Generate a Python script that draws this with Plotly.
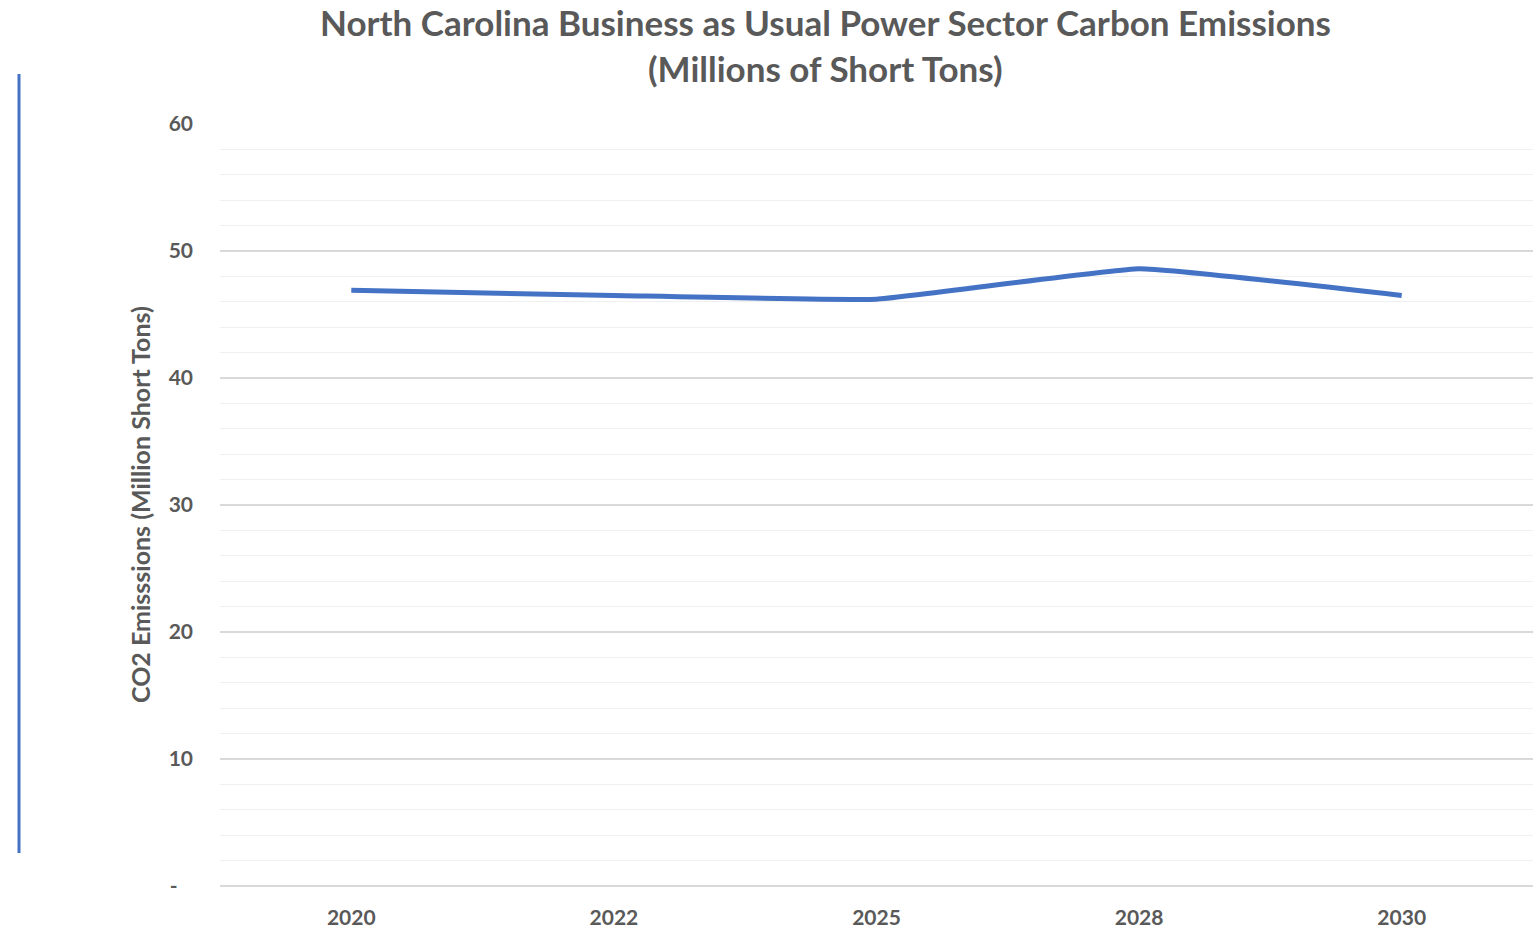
import plotly.graph_objects as go

years = ["2020", "2022", "2025", "2028", "2030"]
emissions = [46.9, 46.5, 46.2, 48.6, 46.5]

y_tickvals = [0, 10, 20, 30, 40, 50, 60]
y_ticktext = ["-&nbsp;&nbsp;&nbsp;", "10", "20", "30", "40", "50", "60"]

GRAY = "#595959"
BLUE = "#4472C4"
FONT = "Lato, 'Open Sans', sans-serif"

fig = go.Figure()
fig.add_trace(go.Scatter(
    x=years, y=emissions, mode="lines",
    line=dict(color=BLUE, width=5, shape="spline", smoothing=0.3),
    hoverinfo="x+y", showlegend=False,
))

W, H = 1537, 931
L, R, T, B = 220, 4, 124, 45
pw = W - L - R
ph = H - T - B

fig.update_layout(
    width=W, height=H,
    margin=dict(l=L, r=R, t=T, b=B),
    paper_bgcolor="white", plot_bgcolor="white",
    font=dict(family=FONT, color=GRAY),
    xaxis=dict(
        type="category", range=[-0.5, 4.5], automargin=False,
        tickvals=years, ticktext=["<b>%s</b>" % y for y in years],
        showgrid=False, showline=False, zeroline=False,
        ticks="", tickfont=dict(size=21, color=GRAY, family=FONT),
        ticklabelstandoff=17,
    ),
    yaxis=dict(
        range=[0, 60], tickvals=y_tickvals, automargin=False,
        ticktext=["<b>%s</b>" % t for t in y_ticktext],
        showgrid=True, gridcolor="#d9d9d9", gridwidth=1.5,
        zeroline=True, zerolinecolor="#d9d9d9", zerolinewidth=1.5,
        showline=False, ticks="",
        tickfont=dict(size=21, color=GRAY, family=FONT),
        ticklabelstandoff=26,
        minor=dict(dtick=2, showgrid=True, gridcolor="#f0f0f0", gridwidth=1),
    ),
    annotations=[
        dict(
            text="<b>North Carolina Business as Usual Power Sector Carbon Emissions</b>",
            xref="paper", yref="paper",
            x=(825 - L) / pw, y=(H - B - 22) / ph,
            xanchor="center", yanchor="middle",
            showarrow=False, font=dict(size=35, color=GRAY, family=FONT),
        ),
        dict(
            text="<b>(Millions of Short Tons)</b>",
            xref="paper", yref="paper",
            x=(825 - L) / pw, y=(H - B - 68) / ph,
            xanchor="center", yanchor="middle",
            showarrow=False, font=dict(size=35, color=GRAY, family=FONT),
        ),
        dict(
            text="<b>CO2 Emisssions (Million Short Tons)</b>",
            xref="paper", yref="paper",
            x=(140 - L) / pw, y=(H - B - 505) / ph,
            xanchor="center", yanchor="middle", textangle=-90,
            showarrow=False, font=dict(size=25, color=GRAY, family=FONT),
        ),
    ],
    shapes=[dict(
        type="line", xref="paper", yref="paper",
        x0=(19 - L) / pw, x1=(19 - L) / pw,
        y0=(H - B - 853) / ph, y1=(H - B - 74) / ph,
        line=dict(color=BLUE, width=3),
    )],
)

fig.write_html("out.html")
